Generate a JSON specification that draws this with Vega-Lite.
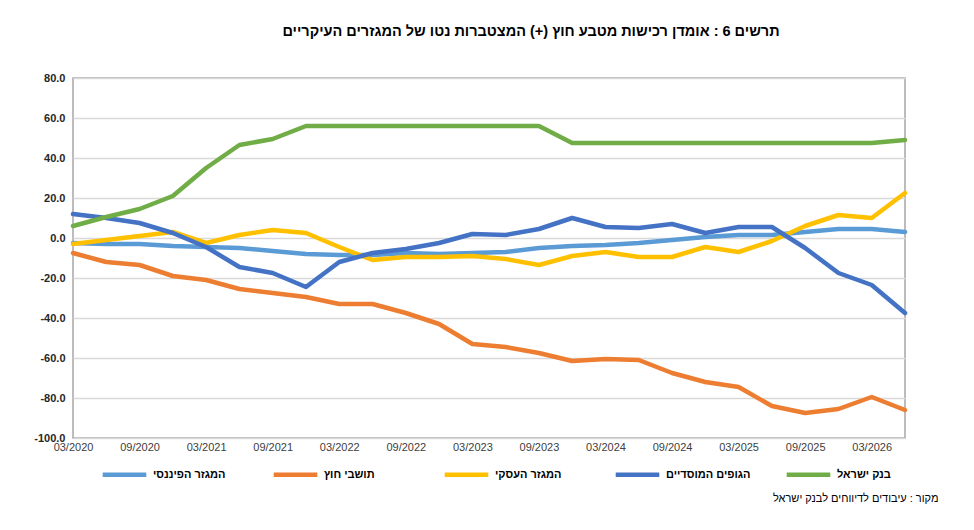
{
  "$schema": "https://vega.github.io/schema/vega-lite/v6.json",
  "width": 832,
  "height": 360,
  "autosize": {"type": "none"},
  "padding": {"left": 73, "top": 78, "right": 69, "bottom": 92},
  "background": "white",
  "title": {
    "text": "תרשים 6 : אומדן רכישות מטבע חוץ (+) המצטברות נטו של המגזרים העיקריים",
    "fontSize": 14.5,
    "fontWeight": "bold",
    "font": "Liberation Sans",
    "color": "#000000",
    "anchor": "middle",
    "dx": 42,
    "offset": 33
  },
  "data": {
    "values": [
      {"d": "03/2020", "i": 0, "bi": 6, "mo": 12, "as": -3, "ch": -7.5, "fi": -2.5},
      {"d": "06/2020", "i": 1, "bi": 10.5, "mo": 10, "as": -1, "ch": -12, "fi": -3},
      {"d": "09/2020", "i": 2, "bi": 14.5, "mo": 7.5, "as": 1, "ch": -13.5, "fi": -3},
      {"d": "12/2020", "i": 3, "bi": 21, "mo": 2.5, "as": 3, "ch": -19, "fi": -4},
      {"d": "03/2021", "i": 4, "bi": 35, "mo": -4.5, "as": -2.5, "ch": -21, "fi": -4.5},
      {"d": "06/2021", "i": 5, "bi": 46.5, "mo": -14.5, "as": 1.5, "ch": -25.5, "fi": -5},
      {"d": "09/2021", "i": 6, "bi": 49.5, "mo": -17.5, "as": 4, "ch": -27.5, "fi": -6.5},
      {"d": "12/2021", "i": 7, "bi": 56, "mo": -24.5, "as": 2.5, "ch": -29.5, "fi": -8},
      {"d": "03/2022", "i": 8, "bi": 56, "mo": -12, "as": -4.5, "ch": -33, "fi": -8.5},
      {"d": "06/2022", "i": 9, "bi": 56, "mo": -7.5, "as": -11, "ch": -33, "fi": -8.5},
      {"d": "09/2022", "i": 10, "bi": 56, "mo": -5.5, "as": -9.5, "ch": -37.5, "fi": -7.5},
      {"d": "12/2022", "i": 11, "bi": 56, "mo": -2.5, "as": -9.5, "ch": -43, "fi": -8},
      {"d": "03/2023", "i": 12, "bi": 56, "mo": 2, "as": -9, "ch": -53, "fi": -7.5},
      {"d": "06/2023", "i": 13, "bi": 56, "mo": 1.5, "as": -10.5, "ch": -54.5, "fi": -7},
      {"d": "09/2023", "i": 14, "bi": 56, "mo": 4.5, "as": -13.5, "ch": -57.5, "fi": -5},
      {"d": "12/2023", "i": 15, "bi": 47.5, "mo": 10, "as": -9, "ch": -61.5, "fi": -4},
      {"d": "03/2024", "i": 16, "bi": 47.5, "mo": 5.5, "as": -7, "ch": -60.5, "fi": -3.5},
      {"d": "06/2024", "i": 17, "bi": 47.5, "mo": 5, "as": -9.5, "ch": -61, "fi": -2.5},
      {"d": "09/2024", "i": 18, "bi": 47.5, "mo": 7, "as": -9.5, "ch": -67.5, "fi": -1},
      {"d": "12/2024", "i": 19, "bi": 47.5, "mo": 2.5, "as": -4.5, "ch": -72, "fi": 0.5},
      {"d": "03/2025", "i": 20, "bi": 47.5, "mo": 5.5, "as": -7, "ch": -74.5, "fi": 1.5},
      {"d": "06/2025", "i": 21, "bi": 47.5, "mo": 5.5, "as": -1.5, "ch": -84, "fi": 1.5},
      {"d": "09/2025", "i": 22, "bi": 47.5, "mo": -5, "as": 6, "ch": -87.5, "fi": 3},
      {"d": "12/2025", "i": 23, "bi": 47.5, "mo": -17.5, "as": 11.5, "ch": -85.5, "fi": 4.5},
      {"d": "03/2026", "i": 24, "bi": 47.5, "mo": -23.5, "as": 10, "ch": -79.5, "fi": 4.5},
      {"d": "06/2026", "i": 25, "bi": 49, "mo": -37.5, "as": 22.5, "ch": -86, "fi": 3}
    ]
  },
  "transform": [
    {"fold": ["fi", "ch", "as", "mo", "bi"], "as": ["key", "v"]},
    {
      "lookup": "key",
      "from": {
        "data": {
          "values": [
            {"key": "fi", "s": "המגזר הפיננסי", "o": 5},
            {"key": "ch", "s": "תושבי חוץ", "o": 4},
            {"key": "as", "s": "המגזר העסקי", "o": 3},
            {"key": "mo", "s": "הגופים המוסדיים", "o": 2},
            {"key": "bi", "s": "בנק ישראל", "o": 1}
          ]
        },
        "key": "key",
        "fields": ["s", "o"]
      }
    }
  ],
  "mark": {"type": "line", "strokeWidth": 4.5, "strokeJoin": "round", "strokeCap": "round"},
  "encoding": {
    "x": {
      "field": "d",
      "type": "ordinal",
      "sort": {"field": "i"},
      "scale": {"type": "point", "padding": 0},
      "axis": {
        "values": ["03/2020", "09/2020", "03/2021", "09/2021", "03/2022", "09/2022", "03/2023", "09/2023", "03/2024", "09/2024", "03/2025", "09/2025", "03/2026"],
        "labelAngle": 0,
        "labelFont": "Liberation Sans",
        "labelFontSize": 11,
        "labelColor": "#404040",
        "labelPadding": 3,
        "ticks": false,
        "domain": false,
        "grid": false,
        "title": "מקור : עיבודים לדיווחים לבנק ישראל",
        "titleFont": "Liberation Sans",
        "titleFontSize": 11,
        "titleFontWeight": "normal",
        "titleColor": "#000000",
        "titleAnchor": "end",
        "titleAlign": "right",
        "titleX": 865,
        "titleY": 54
      }
    },
    "y": {
      "field": "v",
      "type": "quantitative",
      "scale": {"domain": [-100, 80], "nice": false, "zero": false},
      "axis": {
        "values": [-100, -80, -60, -40, -20, 0, 20, 40, 60, 80],
        "labelExpr": "replace(format(datum.value, '.1f'), '\u2212', '-')",
        "labelFont": "Liberation Sans",
        "labelFontSize": 11,
        "labelFontWeight": "bold",
        "labelColor": "#262626",
        "labelPadding": 8,
        "ticks": false,
        "domain": false,
        "gridColor": "#d9d9d9",
        "gridWidth": 1.5,
        "title": null
      }
    },
    "color": {
      "field": "s",
      "type": "nominal",
      "scale": {
        "domain": ["המגזר הפיננסי", "תושבי חוץ", "המגזר העסקי", "הגופים המוסדיים", "בנק ישראל"],
        "range": ["#5b9bd5", "#ed7d31", "#ffc000", "#4472c4", "#70ad47"]
      },
      "legend": {
        "orient": "none",
        "legendX": 27,
        "legendY": 372,
        "direction": "horizontal",
        "title": null,
        "symbolType": "stroke",
        "symbolSize": 1900,
        "symbolStrokeWidth": 4.5,
        "labelFont": "Liberation Sans",
        "labelFontSize": 11,
        "labelFontWeight": "bold",
        "labelColor": "#000000",
        "labelOffset": 4,
        "gridAlign": "all",
        "columnPadding": 26,
        "labelLimit": 200
      }
    },
    "order": {"field": "i"},
    "detail": {"field": "o"}
  },
  "config": {
    "view": {"stroke": "#a6a6a6", "strokeWidth": 1.5}
  }
}
